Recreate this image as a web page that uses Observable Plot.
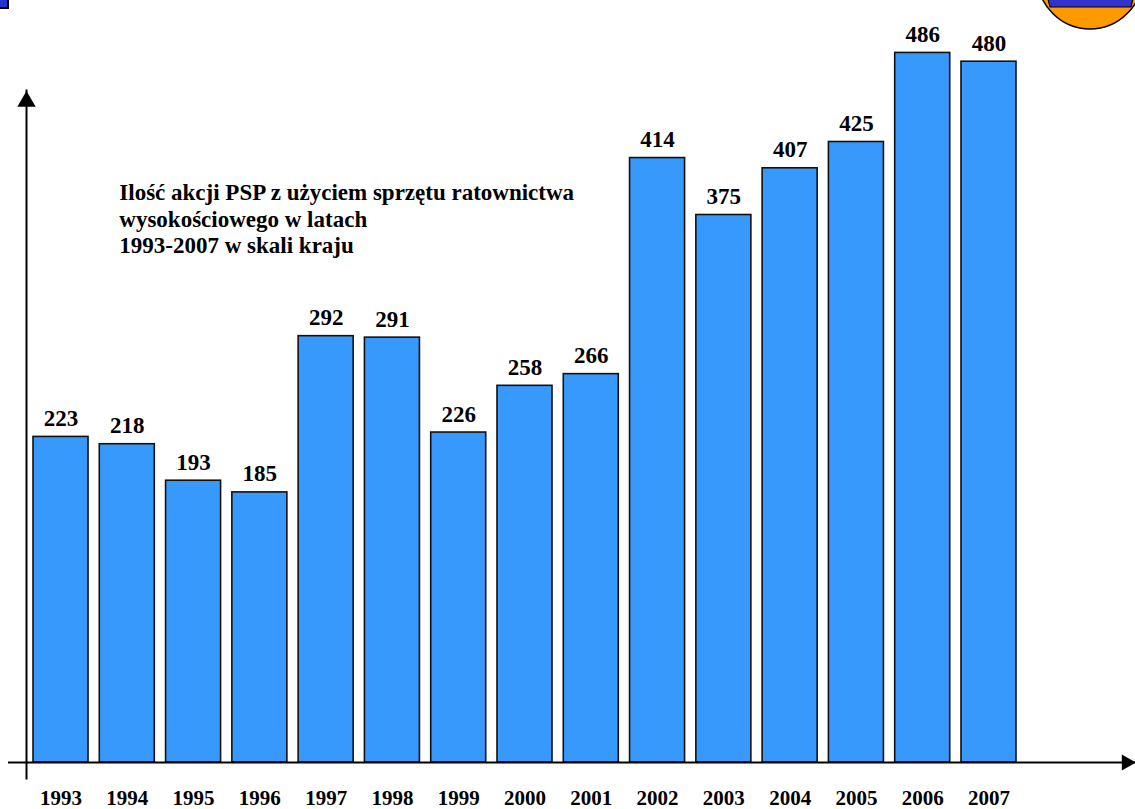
<!DOCTYPE html>
<html>
<head>
<meta charset="utf-8">
<script src="https://cdn.jsdelivr.net/npm/d3@7"></script>
<script src="https://cdn.jsdelivr.net/npm/@observablehq/plot@0.6"></script>
<style>
  html, body { margin: 0; padding: 0; background: #fff; overflow: hidden; }
  #wrap { position: relative; width: 1135px; height: 809px; }
  #chart svg { display: block; }
  #logo { position: absolute; left: 1030px; top: 0; }
  #icon { position: absolute; left: 0; top: 0; width: 7px; height: 7px; background: #2233cc; border-right: 2px solid #000; border-bottom: 2px solid #000; }
</style>
</head>
<body>
<div id="wrap">
  <div id="chart"></div>
  <div id="icon"></div>
  <svg id="logo" width="105" height="40">
    <defs><clipPath id="c"><circle cx="60" cy="-23.6" r="52.6"/></clipPath></defs>
    <circle cx="60" cy="-23.6" r="52.6" fill="#ff9900" stroke="#000" stroke-width="1.5"/>
    <polygon points="8,-40 112,-40 101,7 20,7" fill="#3333cc" clip-path="url(#c)" stroke="#000" stroke-width="1.2"/>
  </svg>
</div>
<script>
const years = ["1993","1994","1995","1996","1997","1998","1999","2000","2001","2002","2003","2004","2005","2006","2007"];
const values = [223, 218, 193, 185, 292, 291, 226, 258, 266, 414, 375, 407, 425, 486, 480];
const titleLines = ["Ilość akcji PSP z użyciem sprzętu ratownictwa", "wysokościowego w latach", "1993-2007 w skali kraju"];

const data = years.map((y, i) => ({year: y, value: values[i]}));
const serif = "'Liberation Serif', 'Times New Roman', serif";

const chart = Plot.plot({
  width: 1135,
  height: 809,
  marginTop: 90,
  marginBottom: 31,
  marginLeft: 26,
  marginRight: 0,
  style: {background: "white", fontFamily: serif},
  x: {type: "band", domain: years, range: [33, 1016], paddingInner: 0.17, paddingOuter: 0, round: false},
  y: {domain: [0, 500], range: [762, 32], axis: null},
  marks: [
    Plot.frame({anchor: "left", stroke: "#000", strokeWidth: 2}),
    Plot.dot([0], {frameAnchor: "top-left", symbol: "triangle", r: 6.8, fill: "#000", stroke: "none", dy: 11}),
    Plot.barY(data, {x: "year", y: "value", fill: "#3899fd", stroke: "#111", strokeWidth: 1.6}),
    Plot.ruleY([0], {stroke: "#000", strokeWidth: 2, insetLeft: -18}),
    Plot.dot([0], {y: d => d, frameAnchor: "right", symbol: "triangle", r: 6, rotate: 90, fill: "#000", stroke: "none", dx: -9}),
    Plot.text(data, {x: "year", y: "value", text: d => String(d.value), lineAnchor: "bottom", dy: -11,
      fontSize: 23, fontWeight: "bold", fontFamily: serif, fill: "#000"}),
    Plot.axisX({tickSize: 0, tickPadding: 12, fontSize: 21, fontWeight: "bold", fontFamily: serif, fill: "#000", label: null}),
    Plot.text([titleLines.join("\n")], {x: () => "1994", y: () => 398, text: d => d, textAnchor: "start", lineAnchor: "top",
      dx: -8, fontSize: 23, lineHeight: 1.15, fontWeight: "bold", fontFamily: serif, fill: "#000"})
  ]
});
document.getElementById("chart").appendChild(chart);
</script>
</body>
</html>
